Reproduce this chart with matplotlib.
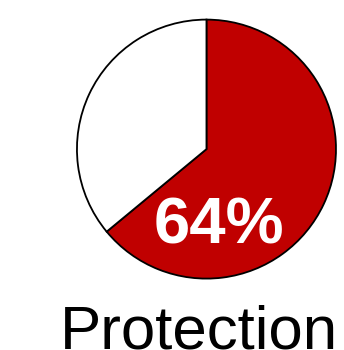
import matplotlib
matplotlib.use("Agg")
import matplotlib.pyplot as plt

shares = [64, 36]
colors = ["#c00000", "#ffffff"]
value_label = "64%"
title = "Protection"

fig = plt.figure(figsize=(3.44, 3.5), dpi=100)
ax = fig.add_axes([0.2237, 0.204, 0.753, 0.740])
ax.pie(shares, colors=colors, startangle=90, counterclock=False, radius=1,
       wedgeprops=dict(edgecolor="black", linewidth=1.3))
ax.set_xlim(-1.0, 1.0)
ax.set_ylim(-1.0, 1.0)
ax.set_aspect("auto")
ax.axis("off")

ax.text(0.097, -0.595, f"{shares[0]}%", color="white", fontsize=47,
        fontweight="bold", family="Liberation Sans", ha="center", va="center")

fig.text(0.577, 0.0057, title, fontsize=44.5, family="Liberation Sans",
         ha="center", va="baseline", color="black")

fig.savefig("out.png", dpi=100)
